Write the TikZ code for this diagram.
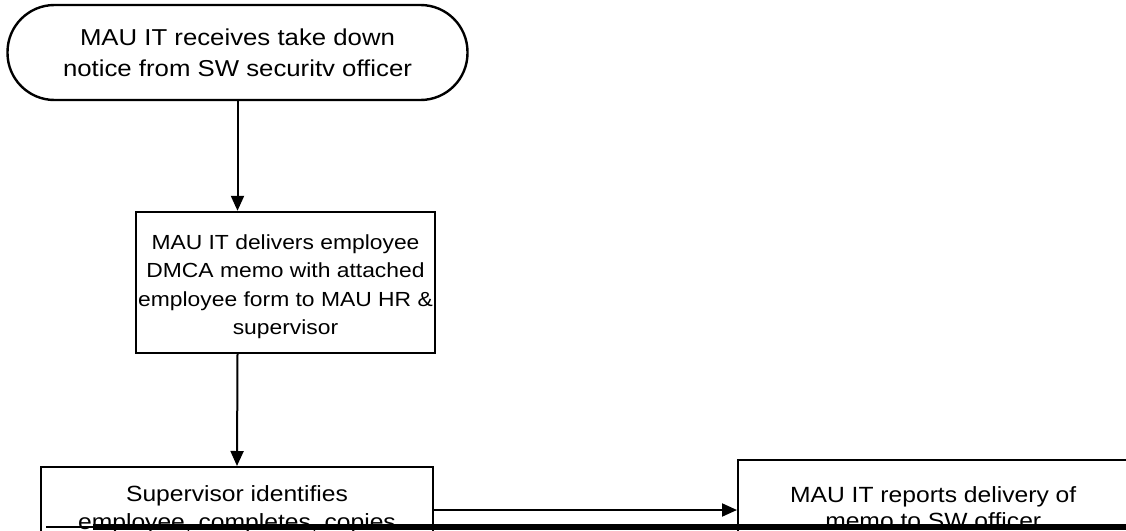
\documentclass[tikz,border=0pt]{standalone}
\usepackage{fontspec}
\setmainfont{Liberation Sans}[FakeStretch=1.12]
\usetikzlibrary{arrows.meta}
\begin{document}
\begin{tikzpicture}[x=1pt,y=-1pt,
  boxline/.style={draw=black, line width=2.4pt},
  flowbox/.style={boxline, rectangle, align=center, inner xsep=2pt},
  arr/.style={draw=black, line width=2pt, -{Triangle[length=15pt,width=13pt]}},
]
\useasboundingbox (0,0) rectangle (1126,530);
\clip (0,0) rectangle (1126,530);
\fill[white] (0,0) rectangle (1126,530);
% start terminal
\node[boxline, rounded corners=47pt, minimum width=460pt, minimum height=95pt,
      align=center, font=\fontsize{23}{31}\selectfont] (start) at (237.5,52.5)
  {MAU IT receives take down\\notice from SW securitv officer};
% box 2
\node[flowbox, minimum width=295pt, minimum height=141pt,
      font=\fontsize{20.4}{28.5}\selectfont] (box2) at (285.5,282.5)
  {\rule{0pt}{23pt}MAU IT delivers employee\\DMCA memo with attached\\employee form to MAU HR \&\\supervisor};
% box 3
\node[flowbox, anchor=north, minimum width=392pt, inner ysep=18pt,
      font=\fontsize{22}{28}\selectfont] (box3) at (237,466)
  {Supervisor identifies\\employee, completes, copies};
% box 4
\node[flowbox, anchor=north west, minimum width=390pt, inner ysep=26pt,
      font=\fontsize{22}{26}\selectfont] (box4) at (737,459)
  {MAU IT reports delivery of\\memo to SW officer};
% connectors
\coordinate (ylevel) at (0,510);
\draw[arr] (start.south) -- (start.south |- box2.north);
\draw[arr] (start.south |- box2.south) -- (box3.north);
\draw[arr] (box3.east |- ylevel) -- (box4.west |- ylevel);
% scanned page edge
\fill[black] (93,523.5) rectangle (1126,530);
\fill[black] (46,526) rectangle (93,528);
\end{tikzpicture}
\end{document}
